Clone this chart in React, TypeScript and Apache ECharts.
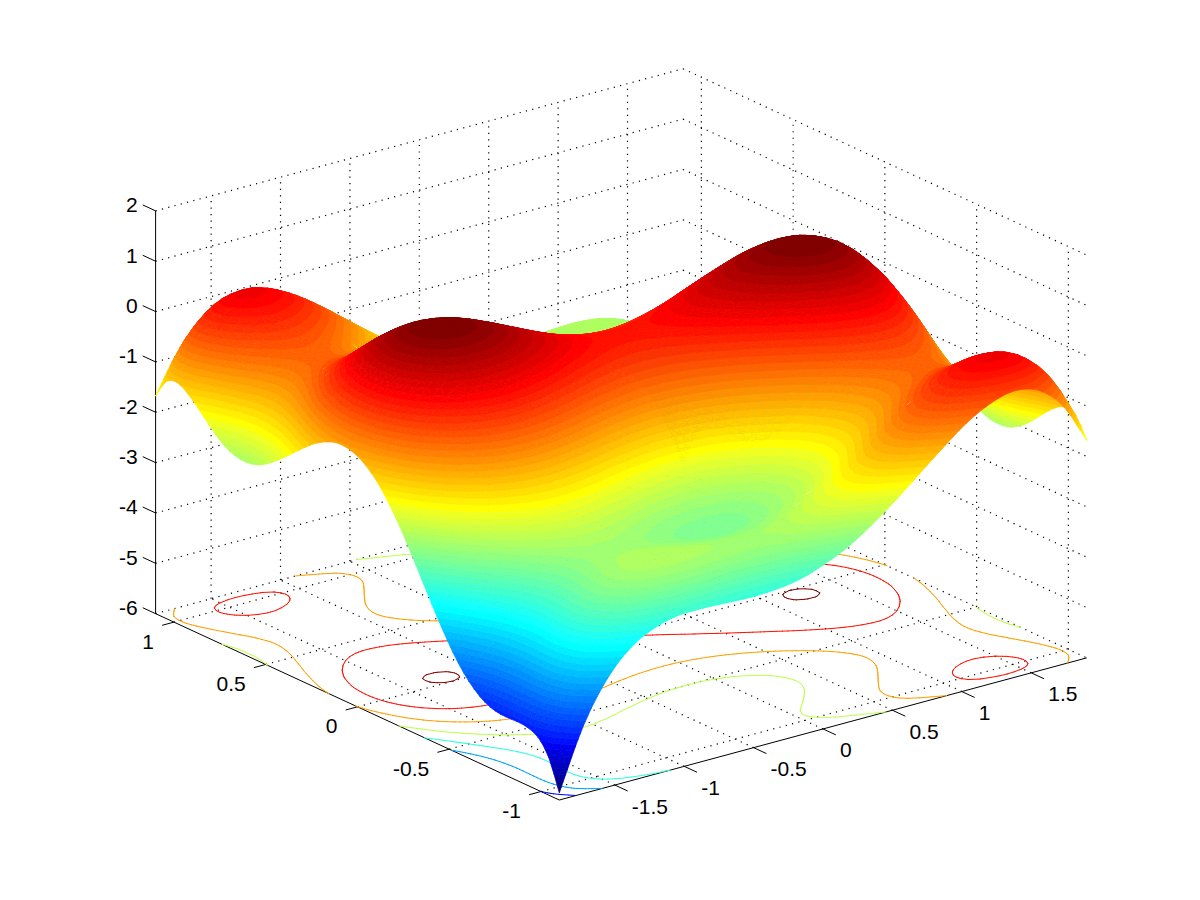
import React, { useEffect, useRef } from "react";
import * as echarts from "echarts";

const xTicks = [-1.5, -1, -0.5, 0, 0.5, 1, 1.5];
const yTicks = [-1, -0.5, 0, 0.5, 1];
const zTicks = [-6, -5, -4, -3, -2, -1, 0, 1, 2];
const contourLevels = [-5, -4, -3, -2, -1, 0, 1];
const xLimits = [-1.9, 1.9];
const yLimits = [-1.1, 1.1];

// z values: one row per x grid position (x from -1.9 to 1.9), 39 values along y (-1.1 to 1.1)
const zRows: number[][] = [
[-5.86,-5.25,-4.95,-4.85,-4.83,-4.84,-4.82,-4.74,-4.58,-4.35,-4.05,-3.68,-3.28,-2.86,-2.44,-2.04,-1.69,-1.39,-1.17,-1.02,-.95,-.95,-1.03,-1.16,-1.34,-1.54,-1.74,-1.92,-2.07,-2.15,-2.16,-2.10,-1.96,-1.76,-1.53,-1.33,-1.21,-1.29,-1.68],
[-4.66,-4.05,-3.77,-3.67,-3.67,-3.68,-3.67,-3.60,-3.46,-3.23,-2.94,-2.59,-2.20,-1.78,-1.37,-.99,-.64,-.36,-.14,0,.06,.04,-.04,-.19,-.37,-.58,-.80,-.99,-1.14,-1.23,-1.26,-1.20,-1.07,-.88,-.67,-.47,-.37,-.45,-.86],
[-3.85,-3.26,-2.98,-2.89,-2.90,-2.93,-2.93,-2.87,-2.73,-2.52,-2.23,-1.89,-1.51,-1.11,-.71,-.33,0,.28,.49,.62,.67,.64,.54,.39,.19,-.03,-.25,-.45,-.61,-.72,-.75,-.71,-.59,-.41,-.20,-.01,.08,-.02,-.43],
[-3.35,-2.77,-2.51,-2.43,-2.44,-2.48,-2.49,-2.44,-2.31,-2.11,-1.84,-1.51,-1.13,-.74,-.35,.01,.34,.61,.80,.92,.96,.93,.82,.65,.45,.22,-.01,-.23,-.40,-.51,-.55,-.52,-.41,-.24,-.04,.13,.22,.11,-.31],
[-3.09,-2.51,-2.26,-2.19,-2.22,-2.26,-2.28,-2.24,-2.13,-1.93,-1.67,-1.35,-.99,-.60,-.22,.13,.45,.70,.89,1.00,1.03,.98,.87,.69,.48,.24,-.01,-.23,-.41,-.53,-.59,-.56,-.46,-.30,-.12,.05,.12,.01,-.43],
[-2.97,-2.41,-2.17,-2.11,-2.14,-2.20,-2.23,-2.20,-2.09,-1.91,-1.66,-1.35,-.99,-.62,-.25,.09,.40,.65,.82,.92,.94,.89,.76,.57,.35,.10,-.15,-.39,-.58,-.71,-.77,-.76,-.67,-.52,-.34,-.19,-.13,-.25,-.69],
[-2.96,-2.40,-2.17,-2.12,-2.17,-2.23,-2.27,-2.25,-2.16,-1.98,-1.74,-1.44,-1.10,-.73,-.37,-.04,.26,.49,.66,.75,.76,.69,.56,.36,.13,-.13,-.40,-.64,-.84,-.98,-1.06,-1.05,-.97,-.83,-.67,-.52,-.47,-.60,-1.06],
[-2.98,-2.43,-2.21,-2.17,-2.23,-2.30,-2.35,-2.34,-2.26,-2.10,-1.86,-1.57,-1.24,-.89,-.54,-.21,.08,.30,.46,.54,.54,.46,.32,.11,-.14,-.41,-.68,-.93,-1.14,-1.30,-1.38,-1.38,-1.31,-1.18,-1.03,-.89,-.85,-.99,-1.46],
[-3.00,-2.46,-2.25,-2.22,-2.29,-2.37,-2.43,-2.43,-2.36,-2.21,-1.98,-1.70,-1.38,-1.04,-.70,-.38,-.11,.11,.26,.33,.32,.23,.08,-.14,-.40,-.68,-.96,-1.22,-1.44,-1.61,-1.70,-1.71,-1.65,-1.53,-1.39,-1.26,-1.23,-1.38,-1.86],
[-2.98,-2.46,-2.25,-2.24,-2.31,-2.41,-2.48,-2.49,-2.42,-2.28,-2.07,-1.79,-1.48,-1.15,-.82,-.51,-.25,-.04,.09,.15,.13,.04,-.13,-.35,-.62,-.91,-1.20,-1.47,-1.71,-1.88,-1.98,-2.01,-1.96,-1.85,-1.71,-1.60,-1.57,-1.74,-2.22],
[-2.91,-2.39,-2.20,-2.19,-2.28,-2.38,-2.46,-2.48,-2.43,-2.29,-2.09,-1.83,-1.53,-1.20,-.88,-.59,-.33,-.14,-.01,.04,.01,-.10,-.27,-.51,-.78,-1.08,-1.39,-1.67,-1.91,-2.09,-2.21,-2.24,-2.20,-2.10,-1.98,-1.87,-1.86,-2.03,-2.53],
[-2.75,-2.25,-2.07,-2.07,-2.17,-2.28,-2.37,-2.40,-2.36,-2.23,-2.04,-1.79,-1.50,-1.18,-.87,-.59,-.34,-.16,-.04,0,-.04,-.16,-.34,-.59,-.87,-1.18,-1.50,-1.79,-2.04,-2.23,-2.36,-2.40,-2.37,-2.28,-2.17,-2.07,-2.07,-2.25,-2.75],
[-2.53,-2.03,-1.86,-1.87,-1.98,-2.10,-2.20,-2.24,-2.21,-2.09,-1.91,-1.67,-1.39,-1.08,-.78,-.51,-.27,-.10,.01,.04,-.01,-.14,-.33,-.59,-.88,-1.20,-1.53,-1.83,-2.09,-2.29,-2.43,-2.48,-2.46,-2.38,-2.28,-2.19,-2.20,-2.39,-2.91],
[-2.22,-1.74,-1.57,-1.60,-1.71,-1.85,-1.96,-2.01,-1.98,-1.88,-1.71,-1.47,-1.20,-.91,-.62,-.35,-.13,.04,.13,.15,.09,-.04,-.25,-.51,-.82,-1.15,-1.48,-1.79,-2.07,-2.28,-2.42,-2.49,-2.48,-2.41,-2.31,-2.24,-2.25,-2.46,-2.98],
[-1.86,-1.38,-1.23,-1.26,-1.39,-1.53,-1.65,-1.71,-1.70,-1.61,-1.44,-1.22,-.96,-.68,-.40,-.14,.08,.23,.32,.33,.26,.11,-.11,-.38,-.70,-1.04,-1.38,-1.70,-1.98,-2.21,-2.36,-2.43,-2.43,-2.37,-2.29,-2.22,-2.25,-2.46,-3.00],
[-1.46,-.99,-.85,-.89,-1.03,-1.18,-1.31,-1.38,-1.38,-1.30,-1.14,-.93,-.68,-.41,-.14,.11,.32,.46,.54,.54,.46,.30,.08,-.21,-.54,-.89,-1.24,-1.57,-1.86,-2.10,-2.26,-2.34,-2.35,-2.30,-2.23,-2.17,-2.21,-2.43,-2.98],
[-1.06,-.60,-.47,-.52,-.67,-.83,-.97,-1.05,-1.06,-.98,-.84,-.64,-.40,-.13,.13,.36,.56,.69,.76,.75,.66,.49,.26,-.04,-.37,-.73,-1.10,-1.44,-1.74,-1.98,-2.16,-2.25,-2.27,-2.23,-2.17,-2.12,-2.17,-2.40,-2.96],
[-.69,-.25,-.13,-.19,-.34,-.52,-.67,-.76,-.77,-.71,-.58,-.39,-.15,.10,.35,.57,.76,.89,.94,.92,.82,.65,.40,.09,-.25,-.62,-.99,-1.35,-1.66,-1.91,-2.09,-2.20,-2.23,-2.20,-2.14,-2.11,-2.17,-2.41,-2.97],
[-.43,.01,.12,.05,-.12,-.30,-.46,-.56,-.59,-.53,-.41,-.23,-.01,.24,.48,.69,.87,.98,1.03,1.00,.89,.70,.45,.13,-.22,-.60,-.99,-1.35,-1.67,-1.93,-2.13,-2.24,-2.28,-2.26,-2.22,-2.19,-2.26,-2.51,-3.09],
[-.31,.11,.22,.13,-.04,-.24,-.41,-.52,-.55,-.51,-.40,-.23,-.01,.22,.45,.65,.82,.93,.96,.92,.80,.61,.34,.01,-.35,-.74,-1.13,-1.51,-1.84,-2.11,-2.31,-2.44,-2.49,-2.48,-2.44,-2.43,-2.51,-2.77,-3.35],
[-.43,-.02,.08,-.01,-.20,-.41,-.59,-.71,-.75,-.72,-.61,-.45,-.25,-.03,.19,.39,.54,.64,.67,.62,.49,.28,0,-.33,-.71,-1.11,-1.51,-1.89,-2.23,-2.52,-2.73,-2.87,-2.93,-2.93,-2.90,-2.89,-2.98,-3.26,-3.85],
[-.86,-.45,-.37,-.47,-.67,-.88,-1.07,-1.20,-1.26,-1.23,-1.14,-.99,-.80,-.58,-.37,-.19,-.04,.04,.06,0,-.14,-.36,-.64,-.99,-1.37,-1.78,-2.20,-2.59,-2.94,-3.23,-3.46,-3.60,-3.67,-3.68,-3.67,-3.67,-3.77,-4.05,-4.66],
[-1.68,-1.29,-1.21,-1.33,-1.53,-1.76,-1.96,-2.10,-2.16,-2.15,-2.07,-1.92,-1.74,-1.54,-1.34,-1.16,-1.03,-.95,-.95,-1.02,-1.17,-1.39,-1.69,-2.04,-2.44,-2.86,-3.28,-3.68,-4.05,-4.35,-4.58,-4.74,-4.82,-4.84,-4.83,-4.85,-4.95,-5.25,-5.86],
];

const nR = zRows.length;
const nC = zRows[0].length;
const gridX = (r: number) => xLimits[0] + (r * (xLimits[1] - xLimits[0])) / (nR - 1);
const gridY = (c: number) => yLimits[0] + (c * (yLimits[1] - yLimits[0])) / (nC - 1);
const zMin = Math.min(...zRows.flat());
const zMax = Math.max(...zRows.flat());
const bandStep = (zMax - zMin) / 64;

// Orthographic view of the 3D box onto the page plane
const toPlane = (x: number, y: number, z: number): number[] => [
  559.3 + 138.8 * (x - xLimits[0]) - 183.5 * (y - yLimits[0]),
  800 - 37.4 * (x - xLimits[0]) - 84.7 * (y - yLimits[0]) - 50.35 * (z + 6),
];

const ramp = (k: number) => (k < 1 || k > 47 ? 0 : k <= 16 ? k / 16 : k <= 31 ? 1 : (48 - k) / 16);
const jet = (i: number) => {
  const b = i <= 39 ? ramp(i + 7) : 0;
  const g = i >= 9 && i <= 55 ? ramp(i - 8) : 0;
  const r = i >= 25 ? ramp(i - 24) : 0;
  return `rgb(${Math.round(r * 255)},${Math.round(g * 255)},${Math.round(b * 255)})`;
};
const colorOf = (z: number) => jet(Math.max(1, Math.min(64, Math.floor((z - zMin) / bandStep) + 1)));

type P3 = number[];
const clip = (poly: P3[], level: number, above: boolean): P3[] => {
  const out: P3[] = [];
  for (let i = 0; i < poly.length; i++) {
    const a = poly[i];
    const b = poly[(i + 1) % poly.length];
    const ina = above ? a[2] >= level : a[2] <= level;
    const inb = above ? b[2] >= level : b[2] <= level;
    if (ina) out.push(a);
    if (ina !== inb) {
      const t = (level - a[2]) / (b[2] - a[2]);
      out.push([a[0] + t * (b[0] - a[0]), a[1] + t * (b[1] - a[1]), level]);
    }
  }
  return out;
};

// Smooth reading of the z table between its nodes (interp-style shading of the same table)
const cubic = (p0: number, p1: number, p2: number, p3: number, t: number) =>
  p1 + 0.5 * t * (p2 - p0 + t * (2 * p0 - 5 * p1 + 4 * p2 - p3 + t * (3 * (p1 - p2) + p3 - p0)));
const atCol = (i: number, j: number) => {
  const row = zRows[i];
  if (j < 0) return 2 * row[0] - row[1];
  if (j > nC - 1) return 2 * row[nC - 1] - row[nC - 2];
  return row[j];
};
const at = (i: number, j: number) => {
  if (i < 0) return 2 * atCol(0, j) - atCol(1, j);
  if (i > nR - 1) return 2 * atCol(nR - 1, j) - atCol(nR - 2, j);
  return atCol(i, j);
};
const readZ = (r: number, c: number) => {
  const r0 = Math.min(nR - 2, Math.floor(r));
  const c0 = Math.min(nC - 2, Math.floor(c));
  const rowVal = (i: number) => cubic(at(i, c0 - 1), at(i, c0), at(i, c0 + 1), at(i, c0 + 2), c - c0);
  return cubic(rowVal(r0 - 1), rowVal(r0), rowVal(r0 + 1), rowVal(r0 + 2), r - r0);
};

const SUB_R = 3;
const SUB_C = 2;
const vertex = (ri: number, ci: number): P3 => {
  const r = ri / SUB_R;
  const c = ci / SUB_C;
  return [gridX(r), gridY(c), readZ(r, c)];
};
const triangleOf = (ri: number, ci: number, far: number): P3[] =>
  far
    ? [vertex(ri + 1, ci), vertex(ri + 1, ci + 1), vertex(ri, ci + 1)]
    : [vertex(ri, ci), vertex(ri + 1, ci), vertex(ri, ci + 1)];

// Far-to-near cell order for hidden surface removal
const surfaceCells: number[][] = [];
for (let r = (nR - 1) * SUB_R - 1; r >= 0; r--) {
  for (let c = (nC - 1) * SUB_C - 1; c >= 0; c--) {
    surfaceCells.push([r, c, 1]);
    surfaceCells.push([r, c, 0]);
  }
}

const contourSegments: number[][] = [];
const SUB = 3;
for (let ri = 0; ri < (nR - 1) * SUB; ri++) {
  for (let ci = 0; ci < (nC - 1) * SUB; ci++) {
    const q = (a: number, b: number): P3 => {
      const rr = (ri + a) / SUB;
      const cc = (ci + b) / SUB;
      return [rr, cc, readZ(rr, cc)];
    };
    const A = q(0, 0), B = q(1, 0), C = q(0, 1), D = q(1, 1);
    for (const tri of [[A, B, C], [B, D, C]]) {
      contourLevels.forEach((lev) => {
        const pts: number[][] = [];
        for (let e = 0; e < 3; e++) {
          const a = tri[e];
          const b = tri[(e + 1) % 3];
          if (a[2] >= lev !== b[2] >= lev) {
            const t = (lev - a[2]) / (b[2] - a[2]);
            pts.push([a[0] + t * (b[0] - a[0]), a[1] + t * (b[1] - a[1])]);
          }
        }
        if (pts.length === 2) {
          contourSegments.push([gridX(pts[0][0]), gridY(pts[0][1]), gridX(pts[1][0]), gridY(pts[1][1]), lev]);
        }
      });
    }
  }
}

// Dotted grid on the floor and two back walls: [x1,y1,z1,x2,y2,z2]
const [x0, x1] = xLimits;
const [y0, y1] = yLimits;
const zLo = zTicks[0];
const zHi = zTicks[zTicks.length - 1];
const gridLines: number[][] = [];
xTicks.forEach((x) => {
  gridLines.push([x, y0, zLo, x, y1, zLo]);
  gridLines.push([x, y1, zLo, x, y1, zHi]);
});
yTicks.forEach((y) => {
  gridLines.push([x0, y, zLo, x1, y, zLo]);
  gridLines.push([x1, y, zLo, x1, y, zHi]);
});
zTicks.forEach((z) => {
  gridLines.push([x0, y1, z, x1, y1, z]);
  gridLines.push([x1, y1, z, x1, y0, z]);
});

// Solid axis lines and outward ticks
const axisLines: number[][] = [
  [x0, y1, zLo, x0, y1, zHi],
  [x0, y0, zLo, x1, y0, zLo],
  [x0, y0, zLo, x0, y1, zLo],
];
zTicks.forEach((z) => axisLines.push([x0, y1, z, x0, y1 + 0.07, z]));
xTicks.forEach((x) => axisLines.push([x, y0, zLo, x, y0 - 0.07, zLo]));
yTicks.forEach((y) => axisLines.push([x0, y, zLo, x0 - 0.085, y, zLo]));

const tickLabels: { text: string; at: number[]; align: string }[] = [];
zTicks.forEach((z) => {
  const p = toPlane(x0, y1, z);
  tickLabels.push({ text: String(z), at: [p[0] - 18, p[1] - 6], align: "right" });
});
xTicks.forEach((x) => {
  const p = toPlane(x, y0, zLo);
  tickLabels.push({ text: String(x), at: [p[0] + 17, p[1] + 21], align: "left" });
});
yTicks.forEach((y) => {
  const p = toPlane(x0, y, zLo);
  tickLabels.push({ text: String(y), at: [p[0] - 20, p[1] + 19], align: "right" });
});

const lineSeries = (data: number[][], style: any) => ({
  type: "custom",
  coordinateSystem: "cartesian2d",
  silent: true,
  clip: false,
  progressive: 0,
  encode: { x: 0, y: 1 },
  data,
  renderItem: (_p: any, api: any) => {
    const a = api.coord(toPlane(api.value(0), api.value(1), api.value(2)));
    const b = api.coord(toPlane(api.value(3), api.value(4), api.value(5)));
    return { type: "line", silent: true, shape: { x1: a[0], y1: a[1], x2: b[0], y2: b[1] }, style };
  },
});

export default function App() {
  const ref = useRef<HTMLDivElement>(null);
  useEffect(() => {
    document.body.style.margin = "0";
    const chart = echarts.init(ref.current!, null, { renderer: "svg" });
    chart.setOption({
      animation: false,
      backgroundColor: "#ffffff",
      grid: { left: 0, right: 0, top: 0, bottom: 0 },
      xAxis: { type: "value", min: 0, max: 1200, show: false },
      yAxis: { type: "value", min: 0, max: 900, inverse: true, show: false },
      series: [
        lineSeries(gridLines, { stroke: "#000", lineWidth: 1.2, lineDash: [1.2, 5.3], fill: "none" }),
        lineSeries(axisLines, { stroke: "#000", lineWidth: 1, fill: "none" }),
        {
          type: "custom",
          coordinateSystem: "cartesian2d",
          silent: true,
          clip: false,
          progressive: 0,
          encode: { x: 0, y: 1 },
          data: contourSegments,
          renderItem: (_p: any, api: any) => {
            const a = api.coord(toPlane(api.value(0), api.value(1), zLo));
            const b = api.coord(toPlane(api.value(2), api.value(3), zLo));
            return {
              type: "line",
              silent: true,
              shape: { x1: a[0], y1: a[1], x2: b[0], y2: b[1] },
              style: { stroke: colorOf(api.value(4)), lineWidth: 1, lineCap: "round" },
            };
          },
        },
        {
          type: "custom",
          coordinateSystem: "cartesian2d",
          silent: true,
          clip: false,
          progressive: 0,
          encode: { x: 0, y: 1 },
          data: surfaceCells,
          renderItem: (_p: any, api: any) => {
            const tri = triangleOf(api.value(0), api.value(1), api.value(2));
            const zs = tri.map((v) => v[2]);
            const lo = Math.floor((Math.min(...zs) - zMin) / bandStep);
            const hi = Math.floor((Math.max(...zs) - zMin) / bandStep);
            const children: any[] = [];
            for (let i = lo; i <= hi; i++) {
              const band = clip(clip(tri, zMin + i * bandStep, true), zMin + (i + 1) * bandStep, false);
              if (band.length < 3) continue;
              const color = jet(Math.max(1, Math.min(64, i + 1)));
              children.push({
                type: "polygon",
                silent: true,
                shape: { points: band.map((v) => api.coord(toPlane(v[0], v[1], v[2]))) },
                style: { fill: color, stroke: color, lineWidth: 0.7, lineJoin: "round" },
              });
            }
            return { type: "group", silent: true, children };
          },
        },
        {
          type: "custom",
          coordinateSystem: "cartesian2d",
          silent: true,
          clip: false,
          progressive: 0,
          encode: { x: 0, y: 1 },
          data: tickLabels.map((t) => t.at),
          renderItem: (p: any, api: any) => {
            const item = tickLabels[p.dataIndex];
            const c = api.coord([api.value(0), api.value(1)]);
            return {
              type: "text",
              silent: true,
              style: {
                x: c[0],
                y: c[1],
                text: item.text,
                fill: "#000",
                font: "21px 'Liberation Sans', Arial, sans-serif",
                align: item.align,
                verticalAlign: "middle",
              },
            };
          },
        },
      ],
    });
    return () => chart.dispose();
  }, []);
  return <div ref={ref} style={{ position: "absolute", left: 0, top: 0, width: 1200, height: 900 }} />;
}
